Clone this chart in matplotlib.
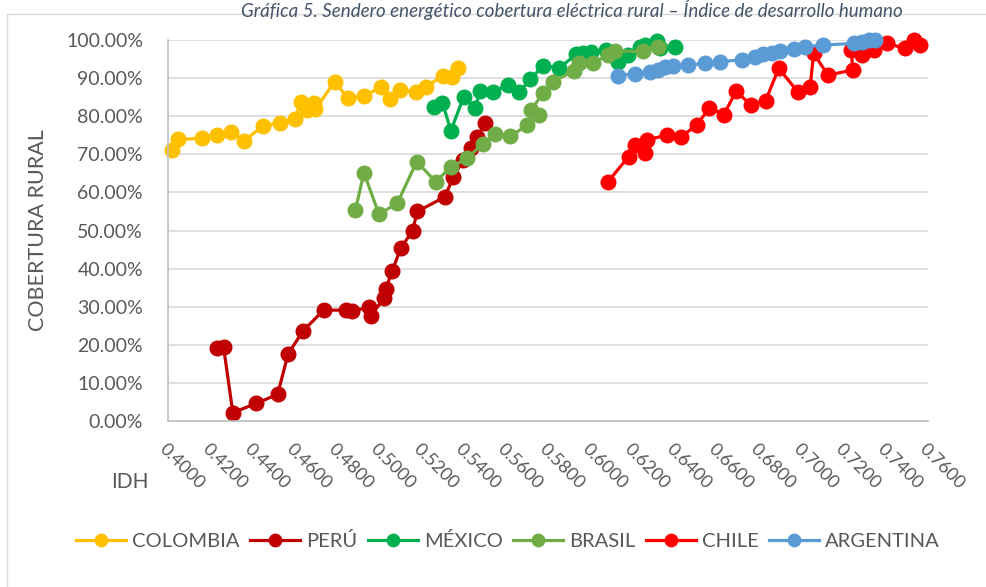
import matplotlib.pyplot as plt
import numpy as np
from matplotlib.patches import Rectangle
from matplotlib.ticker import FuncFormatter

plt.rcParams['font.family'] = ['Lato', 'DejaVu Sans']

# IDH (x) and rural coverage (y) per country
col_x = [0.4018, 0.4049, 0.4160, 0.4231, 0.4299, 0.4361, 0.4450, 0.4529, 0.4600,
         0.4632, 0.4659, 0.4690, 0.4698, 0.4789, 0.4852, 0.4928, 0.5010, 0.5051,
         0.5099, 0.5173, 0.5221, 0.5302, 0.5343, 0.5374]
col_y = [0.710, 0.739, 0.742, 0.750, 0.759, 0.736, 0.774, 0.783, 0.792,
         0.838, 0.816, 0.834, 0.818, 0.891, 0.847, 0.853, 0.876, 0.844,
         0.869, 0.863, 0.877, 0.906, 0.904, 0.926]

per_x = [0.4231, 0.4263, 0.4307, 0.4418, 0.4519, 0.4569, 0.4640, 0.4738, 0.4841,
         0.4873, 0.4952, 0.4960, 0.5023, 0.5031, 0.5063, 0.5102, 0.5159, 0.5181,
         0.5311, 0.5352, 0.5399, 0.5437, 0.5466, 0.5501]
per_y = [0.191, 0.195, 0.022, 0.046, 0.070, 0.176, 0.237, 0.291, 0.291,
         0.289, 0.298, 0.276, 0.322, 0.346, 0.395, 0.453, 0.500, 0.550,
         0.588, 0.641, 0.685, 0.716, 0.746, 0.781]

mex_x = [0.5260, 0.5300, 0.5340, 0.5400, 0.5454, 0.5479, 0.5538, 0.5609, 0.5664,
         0.5717, 0.5775, 0.5854, 0.5933, 0.5965, 0.6005, 0.6076, 0.6132, 0.6179,
         0.6234, 0.6258, 0.6314, 0.6329, 0.6400]
mex_y = [0.825, 0.835, 0.762, 0.850, 0.821, 0.867, 0.864, 0.882, 0.864,
         0.897, 0.932, 0.926, 0.963, 0.965, 0.969, 0.974, 0.943, 0.961,
         0.982, 0.987, 0.998, 0.978, 0.982]

bra_x = [0.4888, 0.4928, 0.4999, 0.5086, 0.5178, 0.5268, 0.5340, 0.5416, 0.5490,
         0.5551, 0.5622, 0.5702, 0.5759, 0.5720, 0.5775, 0.5823, 0.5924, 0.5949,
         0.6014, 0.6084, 0.6119, 0.6250, 0.6321]
bra_y = [0.554, 0.652, 0.543, 0.571, 0.681, 0.628, 0.667, 0.689, 0.727,
         0.754, 0.747, 0.777, 0.803, 0.816, 0.860, 0.891, 0.919, 0.939,
         0.940, 0.961, 0.971, 0.970, 0.982]

chi_x = [0.6084, 0.6182, 0.6210, 0.6258, 0.6271, 0.6366, 0.6432, 0.6506, 0.6565,
         0.6633, 0.6691, 0.6761, 0.6831, 0.6893, 0.6983, 0.7042, 0.7058, 0.7126,
         0.7243, 0.7237, 0.7287, 0.7343, 0.7406, 0.7493, 0.7533, 0.7560]
chi_y = [0.628, 0.694, 0.724, 0.703, 0.738, 0.751, 0.746, 0.778, 0.822,
         0.804, 0.866, 0.829, 0.841, 0.926, 0.864, 0.877, 0.965, 0.908,
         0.921, 0.974, 0.961, 0.974, 0.991, 0.978, 1.000, 0.987]

arg_x = [0.6132, 0.6211, 0.6282, 0.6322, 0.6353, 0.6393, 0.6464, 0.6543, 0.6614,
         0.6717, 0.6780, 0.6820, 0.6860, 0.6899, 0.6963, 0.7018, 0.7105, 0.7248,
         0.7287, 0.7319, 0.7350]
arg_y = [0.906, 0.912, 0.917, 0.921, 0.928, 0.932, 0.934, 0.939, 0.943,
         0.948, 0.956, 0.963, 0.967, 0.972, 0.976, 0.982, 0.987, 0.991,
         0.996, 0.999, 1.000]

series = [
    ('COLOMBIA', col_x, col_y, '#FFC000'),
    ('PERÚ', per_x, per_y, '#C00000'),
    ('MÉXICO', mex_x, mex_y, '#00B050'),
    ('BRASIL', bra_x, bra_y, '#70AD47'),
    ('CHILE', chi_x, chi_y, '#FF0000'),
    ('ARGENTINA', arg_x, arg_y, '#5B9BD5'),
]

text_color = '#595959'

fig = plt.figure(figsize=(9.86, 5.87), dpi=100)
ax = fig.add_axes([168 / 986, 1 - 421 / 587, 760 / 986, 381 / 587])

# chart border and title at the top edge
fig.patches.append(Rectangle((7 / 986, -0.05), 1.0, 1 - 14 / 587 + 0.05,
                             transform=fig.transFigure, fill=False,
                             edgecolor='#D9D9D9', linewidth=1))
fig.text(572 / 986, 1 - 9 / 587,
         'Gráfica 5. Sendero energético cobertura eléctrica rural – Índice de desarrollo humano',
         ha='center', va='center', fontsize=13.5, style='italic', color='#44546A')

for name, x, y, c in series:
    ax.plot(x, y, '-o', color=c, linewidth=2.3, markersize=10.5, label=name,
            clip_on=False)

ax.set_xlim(0.40, 0.76)
ax.set_ylim(0, 1.0)
ax.set_xticks(np.arange(0.40, 0.7601, 0.02))
ax.set_yticks(np.arange(0, 1.001, 0.1))
ax.xaxis.set_major_formatter(FuncFormatter(lambda v, p: f'{v:.4f}'))
ax.yaxis.set_major_formatter(FuncFormatter(lambda v, p: f'{v * 100:.2f}%'))
ax.tick_params(length=0, labelsize=13, colors=text_color)
ax.tick_params(axis='y', pad=18, labelsize=14)
ax.tick_params(axis='x', pad=14)
for lbl in ax.get_xticklabels():
    lbl.set_rotation(-45)
    lbl.set_ha('left')
    lbl.set_va('top')
    lbl.set_rotation_mode('anchor')

ax.grid(axis='y', color='#D9D9D9', linewidth=1.2)
ax.set_axisbelow(True)
for side in ['top', 'right']:
    ax.spines[side].set_visible(False)
for side in ['left', 'bottom']:
    ax.spines[side].set_color('#BFBFBF')
    ax.spines[side].set_linewidth(1.2)

ax.set_ylabel('COBERTURA RURAL', fontsize=15.5, color=text_color)
ax.yaxis.set_label_coords(-0.158, 0.5)
fig.text(130 / 986, 1 - 482 / 587, 'IDH', ha='center', va='center',
         fontsize=15, color=text_color)

fig.legend(loc='center', bbox_to_anchor=(508 / 986, 1 - 541 / 587), ncol=6,
           frameon=False, fontsize=14.5, labelcolor=text_color, handlelength=2.5,
           columnspacing=0.5, handletextpad=0.3, markerscale=0.85)

fig.savefig('out.png', dpi=100, facecolor='white')
